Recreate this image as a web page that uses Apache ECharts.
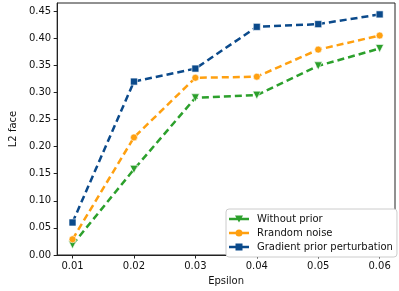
<!DOCTYPE html>
<html>
<head>
<meta charset="utf-8">
<script src="https://cdn.jsdelivr.net/npm/echarts@6/dist/echarts.min.js"></script>
<style>html,body{margin:0;padding:0;background:#fff}#c{width:399px;height:291px}</style>
</head>
<body>
<div id="c"></div>
<script>
var epsilons = [0.01, 0.02, 0.03, 0.04, 0.05, 0.06];
var withoutPrior = [0.019, 0.158, 0.290, 0.295, 0.349, 0.381];
var randomNoise = [0.029, 0.217, 0.327, 0.329, 0.379, 0.405];
var gradientPrior = [0.060, 0.320, 0.344, 0.421, 0.426, 0.444];
var yTicks = [0, 0.05, 0.10, 0.15, 0.20, 0.25, 0.30, 0.35, 0.40, 0.45];
var seriesNames = ['Without prior', 'Rrandom noise', 'Gradient prior perturbation'];

var FONT = 'DejaVu Sans';
var LINE = 'M0,2.3 L20,2.3 L20,4.7 L0,4.7 Z ';
var legendIcons = [
  'path://' + LINE + 'M6,0 L14,0 L10,7 Z',
  'path://' + LINE + 'M13.5,3.5 A3.5,3.5 0 1,1 6.5,3.5 A3.5,3.5 0 1,1 13.5,3.5 Z',
  'path://' + LINE + 'M6.5,0 L13.5,0 L13.5,7 L6.5,7 Z'
];
function pairs(vals){ return epsilons.map(function(x,i){ return [x, vals[i]]; }); }
function mk(name, vals, color, symbol, size){
  return {
    name: name, type: 'line', data: pairs(vals),
    symbol: symbol, symbolSize: size,
    itemStyle: {color: color, borderColor: '#fff', borderWidth: 0.6},
    lineStyle: {color: color, width: 2.5, type: [7, 4]},
    emphasis: {disabled: true}, animation: false
  };
}
var chart = echarts.init(document.getElementById('c'));
chart.setOption({
  animation: false,
  grid: {left: 52, right: 4, top: 3, bottom: 33, show: true, borderColor: '#222', borderWidth: 1},
  xAxis: {
    type: 'value', min: 0.0075, max: 0.0625,
    name: 'Epsilon', nameLocation: 'middle', nameGap: 21,
    nameTextStyle: {fontFamily: FONT, fontSize: 10, color: '#111'},
    axisLine: {show: true, onZero: false, lineStyle: {color: '#222', width: 1}},
    axisTick: {show: true, length: 3.5, lineStyle: {color: '#222'}, customValues: epsilons},
    axisLabel: {customValues: epsilons, fontFamily: FONT, fontSize: 10, color: '#111', margin: 6,
      formatter: function(v){ return v.toFixed(2); }},
    splitLine: {show: false}
  },
  yAxis: {
    type: 'value', min: 0, max: 0.465,
    name: 'L2 face', nameLocation: 'middle', nameGap: 32,
    nameTextStyle: {fontFamily: FONT, fontSize: 10, color: '#111'},
    axisLine: {show: true, lineStyle: {color: '#222', width: 1}},
    axisTick: {show: true, length: 3.5, lineStyle: {color: '#222'}, customValues: yTicks},
    axisLabel: {customValues: yTicks, fontFamily: FONT, fontSize: 10, color: '#111', margin: 6,
      formatter: function(v){ return v.toFixed(2); }},
    splitLine: {show: false}
  },
  legend: {
    orient: 'vertical', left: 226, top: 209,
    data: seriesNames.map(function(n, i){ return {name: n, icon: legendIcons[i]}; }),
    backgroundColor: '#fff', borderColor: '#ccc', borderWidth: 1, borderRadius: 3,
    padding: [5, 4, 5, 3], itemGap: 4, itemWidth: 20, itemHeight: 7,
    itemStyle: {borderWidth: 0},
    textStyle: {fontFamily: FONT, fontSize: 10, color: '#111', padding: [0, 0, 0, 3]},
    selectedMode: false
  },
  series: [
    mk(seriesNames[0], withoutPrior, '#2ca02c', 'path://M0,0 L10,0 L5,9 Z', 8),
    mk(seriesNames[1], randomNoise, '#ffa010', 'circle', 7),
    mk(seriesNames[2], gradientPrior, '#0b4a8b', 'rect', 7)
  ]
});
</script>
</body>
</html>
